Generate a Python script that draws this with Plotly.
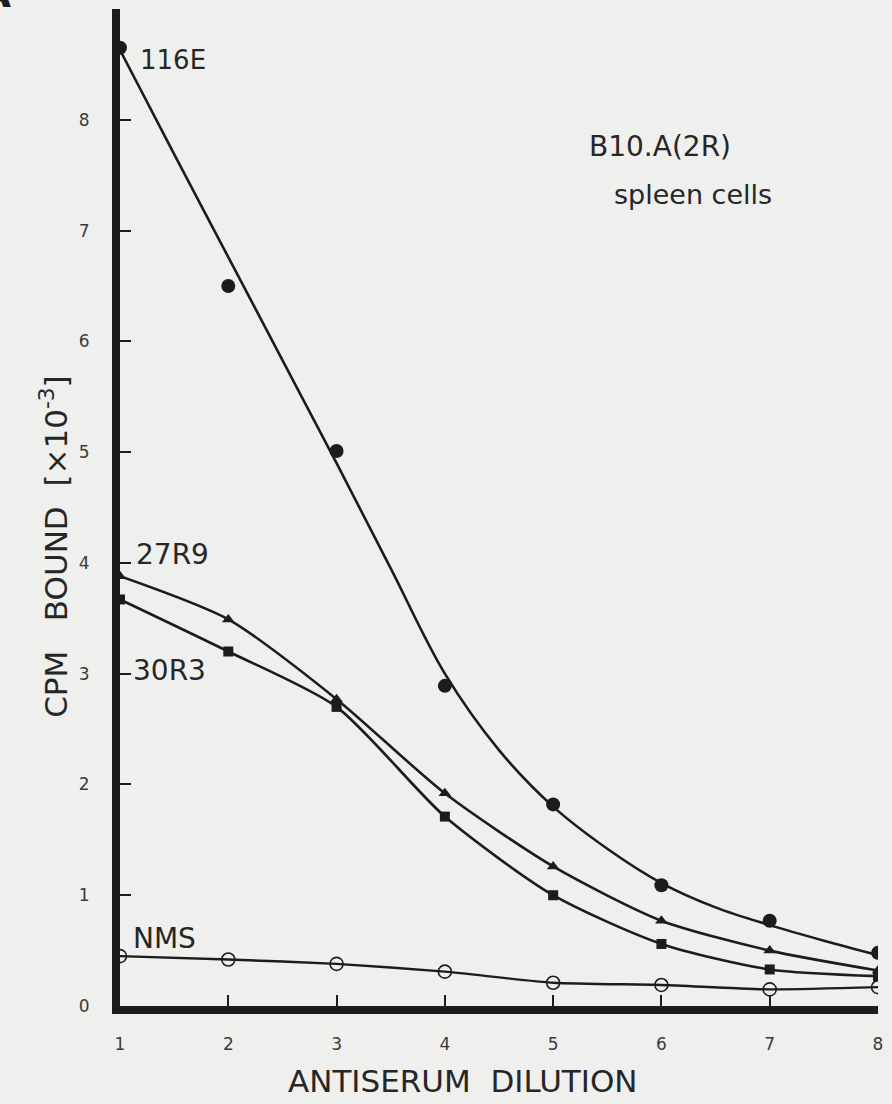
import plotly.graph_objects as go

# Antiserum dilution steps
dilution = [1, 2, 3, 4, 5, 6, 7, 8]

# CPM bound (x10^-3), measured points
cpm_116E = [8.65, 6.50, 5.01, 2.89, 1.82, 1.09, 0.77, 0.48]
cpm_27R9 = [3.88, 3.49, 2.77, 1.92, 1.26, 0.77, 0.50, 0.32]
cpm_30R3 = [3.67, 3.20, 2.70, 1.71, 1.00, 0.56, 0.33, 0.27]
cpm_NMS = [0.45, 0.42, 0.38, 0.31, 0.21, 0.19, 0.15, 0.17]

# Hand-fitted curve for 116E, read at half dilution steps
fit_x = [1, 1.5, 2, 2.5, 3, 3.5, 4, 4.5, 5, 5.5, 6, 6.5, 7, 7.5, 8]
fit_116E = [8.63, 7.69, 6.76, 5.83, 4.90, 3.95, 3.00, 2.31, 1.80, 1.42, 1.11,
            0.89, 0.73, 0.59, 0.46]

y_ticks = [0, 1, 2, 3, 4, 5, 6, 7, 8]
x_ticks = [1, 2, 3, 4, 5, 6, 7, 8]

INK = "#1c1c1c"
TEXT = "#262626"
PAPER = "#efefed"
FONT = "DejaVu Sans"

fig = go.Figure()

line_style = dict(color=INK, width=2.6, shape="spline", smoothing=0.7)

fig.add_trace(go.Scatter(x=fit_x, y=fit_116E, mode="lines",
                         line=dict(color=INK, width=2.6, shape="spline", smoothing=1.0),
                         hoverinfo="skip", showlegend=False))
fig.add_trace(go.Scatter(x=dilution, y=cpm_116E, mode="markers", name="116E",
                         marker=dict(symbol="circle", size=14, color=INK)))
fig.add_trace(go.Scatter(x=dilution, y=cpm_27R9, mode="lines+markers", name="27R9",
                         line=line_style,
                         marker=dict(symbol="triangle-up", size=11, color=INK)))
fig.add_trace(go.Scatter(x=dilution, y=cpm_30R3, mode="lines+markers", name="30R3",
                         line=line_style,
                         marker=dict(symbol="square", size=10, color=INK)))
fig.add_trace(go.Scatter(x=dilution, y=cpm_NMS, mode="lines+markers", name="NMS",
                         line=dict(color=INK, width=2.4, shape="spline", smoothing=0.6),
                         marker=dict(symbol="circle-open", size=13, color=INK,
                                     line=dict(width=1.6, color=INK))))

annotations = []


def label(x, y, text, size):
    annotations.append(dict(x=x, y=y, xref="x", yref="y", text=text, showarrow=False,
                            xanchor="left", yanchor="middle",
                            font=dict(family=FONT, size=size, color=TEXT)))


label(1.17, 8.54, "116E", 26)
label(1.13, 4.08, "27R9", 28)
label(1.10, 3.03, "30R3", 28)
label(1.10, 0.61, "NMS", 28)
label(5.31, 7.76, "B10.A(2R)", 28)
label(5.54, 7.33, "spleen cells", 27)

# Axis titles
annotations.append(dict(xref="paper", yref="paper", x=-0.0865, y=0.461,
                        text="CPM   BOUND  [×10<sup>-3</sup>]", textangle=-90,
                        showarrow=False, xanchor="center", yanchor="middle",
                        font=dict(family=FONT, size=31, color=TEXT)))
annotations.append(dict(xref="paper", yref="paper", x=0.452, y=-0.0752,
                        text="ANTISERUM  DILUTION", showarrow=False,
                        xanchor="center", yanchor="middle",
                        font=dict(family=FONT, size=31, color=TEXT)))
# Panel letter at the top-left corner, largely beyond the page edge
annotations.append(dict(xref="paper", yref="paper", x=-0.1415, y=0.991,
                        text="<b>A</b>", showarrow=False,
                        xanchor="right", yanchor="bottom",
                        font=dict(family=FONT, size=40, color=INK)))

fig.update_layout(
    width=892, height=1104,
    margin=dict(l=120, r=9, t=9, b=98),
    paper_bgcolor=PAPER, plot_bgcolor=PAPER,
    showlegend=False,
    annotations=annotations,
    font=dict(family=FONT, color="#333"),
)

fig.update_xaxes(range=[1, 8.0], tickvals=x_ticks, showgrid=False, zeroline=False,
                 showline=True, linewidth=8, linecolor=INK,
                 ticks="inside", ticklen=11, tickwidth=1.6, tickcolor=INK,
                 ticklabelstandoff=16, tickfont=dict(size=17, color="#3a3a3a", family=FONT))
fig.update_yaxes(range=[0, 9.0], tickvals=y_ticks, showgrid=False, zeroline=False,
                 showline=True, linewidth=8, linecolor=INK,
                 ticks="inside", ticklen=11, tickwidth=1.6, tickcolor=INK,
                 ticklabelstandoff=19, tickfont=dict(size=17, color="#3a3a3a", family=FONT))

fig.write_html("out.html")
